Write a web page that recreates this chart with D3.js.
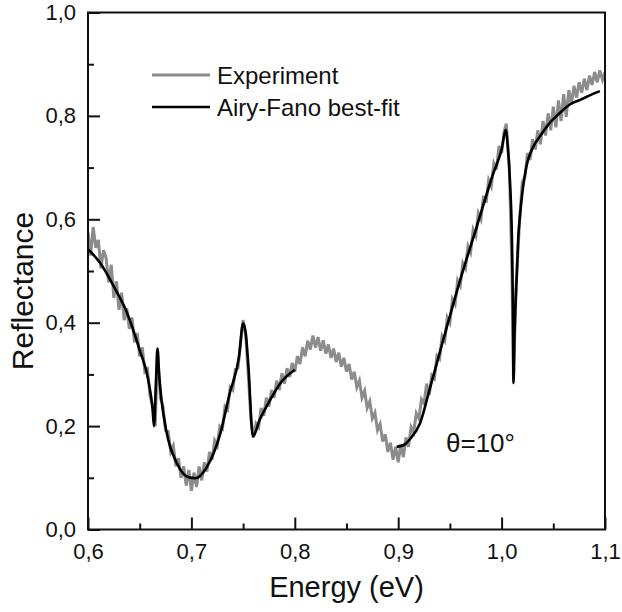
<!DOCTYPE html>
<html>
<head>
<meta charset="utf-8">
<script src="https://cdn.jsdelivr.net/npm/d3@7"></script>
<style>
  html, body { margin: 0; padding: 0; background: #fff; }
  svg { display: block; }
  text { font-family: "Liberation Sans", Arial, sans-serif; fill: #111; }
</style>
</head>
<body>
<svg id="chart" width="622" height="612"></svg>
<script>
// ---------- data ----------
const xMajorTicks = [0.6, 0.7, 0.8, 0.9, 1.0, 1.1];
const xMinorTicks = [0.65, 0.75, 0.85, 0.95, 1.05];
const yMajorTicks = [0.0, 0.2, 0.4, 0.6, 0.8, 1.0];
const yMinorTicks = [0.1, 0.3, 0.5, 0.7, 0.9];
const seriesNames = ["Experiment", "Airy-Fano best-fit"];
const annotation = "θ=10°";

// Experiment (energy eV, reflectance) — noisy measured trace
const experiment = [
[0.6000,0.575],[0.6025,0.530],[0.6050,0.585],[0.6075,0.545],[0.6100,0.560],[0.6125,0.505],[0.6150,0.540],[0.6175,0.525],
[0.6200,0.478],[0.6225,0.512],[0.6250,0.448],[0.6275,0.480],[0.6300,0.425],[0.6325,0.458],[0.6350,0.405],[0.6375,0.428],
[0.6400,0.388],[0.6425,0.410],[0.6450,0.362],[0.6475,0.380],[0.6500,0.335],[0.6525,0.352],[0.6550,0.305],[0.6575,0.310],
[0.6600,0.258],[0.6625,0.240],[0.6650,0.200],[0.6672,0.345],[0.6700,0.255],[0.6725,0.238],[0.6750,0.192],[0.6775,0.190],
[0.6800,0.150],[0.6825,0.162],[0.6850,0.122],[0.6875,0.138],[0.6900,0.100],[0.6925,0.122],[0.6950,0.085],[0.6975,0.115],
[0.7000,0.075],[0.7025,0.110],[0.7050,0.082],[0.7075,0.122],[0.7100,0.095],[0.7125,0.130],[0.7150,0.112],[0.7175,0.150],
[0.7200,0.135],[0.7225,0.172],[0.7250,0.162],[0.7275,0.200],[0.7300,0.195],[0.7325,0.238],[0.7350,0.232],[0.7375,0.275],
[0.7400,0.270],[0.7425,0.310],[0.7450,0.312],[0.7475,0.358],[0.7500,0.405],[0.7525,0.378],[0.7550,0.300],[0.7575,0.215],
[0.7600,0.178],[0.7625,0.205],[0.7650,0.198],[0.7675,0.235],[0.7700,0.220],[0.7725,0.255],[0.7750,0.238],[0.7775,0.270],
[0.7800,0.255],[0.7825,0.288],[0.7850,0.270],[0.7875,0.302],[0.7900,0.282],[0.7925,0.312],[0.7950,0.295],[0.7975,0.322],
[0.8000,0.305],[0.8025,0.335],[0.8050,0.320],[0.8075,0.352],[0.8100,0.335],[0.8125,0.365],[0.8150,0.348],[0.8175,0.375],
[0.8200,0.352],[0.8225,0.372],[0.8250,0.346],[0.8275,0.366],[0.8300,0.340],[0.8325,0.358],[0.8350,0.332],[0.8375,0.350],
[0.8400,0.324],[0.8425,0.342],[0.8450,0.315],[0.8475,0.332],[0.8500,0.305],[0.8525,0.320],[0.8550,0.290],[0.8575,0.305],
[0.8600,0.275],[0.8625,0.288],[0.8650,0.255],[0.8675,0.268],[0.8700,0.235],[0.8725,0.248],[0.8750,0.215],[0.8775,0.226],
[0.8800,0.192],[0.8825,0.204],[0.8850,0.170],[0.8875,0.184],[0.8900,0.150],[0.8925,0.168],[0.8950,0.135],[0.8975,0.160],
[0.9000,0.130],[0.9025,0.165],[0.9050,0.140],[0.9075,0.178],[0.9100,0.160],[0.9125,0.198],[0.9150,0.188],[0.9175,0.225],
[0.9200,0.215],[0.9225,0.252],[0.9250,0.244],[0.9275,0.282],[0.9300,0.260],[0.9325,0.298],[0.9350,0.292],[0.9375,0.336],
[0.9400,0.330],[0.9425,0.374],[0.9450,0.365],[0.9475,0.410],[0.9500,0.400],[0.9525,0.446],[0.9550,0.436],[0.9575,0.482],
[0.9600,0.472],[0.9625,0.515],[0.9650,0.505],[0.9675,0.548],[0.9700,0.536],[0.9725,0.580],[0.9750,0.568],[0.9775,0.612],
[0.9800,0.600],[0.9825,0.645],[0.9850,0.632],[0.9875,0.676],[0.9900,0.664],[0.9925,0.708],[0.9950,0.696],[0.9975,0.742],
[1.0000,0.728],[1.0025,0.770],[1.0045,0.785],[1.0075,0.700],[1.0100,0.500],[1.0115,0.290],[1.0140,0.470],[1.0175,0.600],
[1.0200,0.672],[1.0225,0.682],[1.0250,0.728],[1.0275,0.715],[1.0300,0.755],[1.0325,0.735],[1.0350,0.772],[1.0375,0.745],
[1.0400,0.790],[1.0425,0.762],[1.0450,0.805],[1.0475,0.772],[1.0500,0.818],[1.0525,0.778],[1.0550,0.830],[1.0575,0.790],
[1.0600,0.842],[1.0625,0.798],[1.0650,0.850],[1.0675,0.822],[1.0700,0.858],[1.0725,0.835],[1.0750,0.865],[1.0775,0.845],
[1.0800,0.872],[1.0825,0.850],[1.0850,0.878],[1.0875,0.860],[1.0900,0.885],[1.0925,0.865],[1.0950,0.888],[1.0975,0.870],
[1.1000,0.885]
];

// Airy-Fano best fit, low-energy segment
const fitLow = [
[0.600,0.542],[0.612,0.515],[0.625,0.470],[0.638,0.418],[0.650,0.347],[0.658,0.292],[0.6625,0.232],[0.6638,0.200],
[0.6658,0.290],[0.6672,0.350],[0.6688,0.300],[0.6710,0.252],[0.6760,0.188],[0.6860,0.128],[0.6960,0.102],[0.7040,0.099],
[0.7150,0.121],[0.7280,0.186],[0.7370,0.263],[0.7460,0.334],[0.7500,0.399],[0.7525,0.380],[0.7550,0.320],[0.7595,0.180],
[0.7660,0.212],[0.7760,0.250],[0.7860,0.283],[0.8000,0.309]
];

// Airy-Fano best fit, high-energy segment
const fitHigh = [
[0.8985,0.160],[0.9050,0.163],[0.9115,0.175],[0.9210,0.205],[0.9300,0.268],[0.9400,0.341],[0.9600,0.483],[0.9760,0.586],
[0.9920,0.689],[1.0000,0.735],[1.0040,0.773],[1.0060,0.740],[1.0080,0.676],[1.0100,0.560],[1.0110,0.420],[1.0115,0.283],
[1.0125,0.380],[1.0145,0.483],[1.0160,0.560],[1.0180,0.612],[1.0240,0.702],[1.0300,0.738],[1.0370,0.760],[1.0460,0.785],
[1.0560,0.805],[1.0660,0.822],[1.0760,0.831],[1.0900,0.844],[1.0950,0.848]
];

// ---------- drawing ----------
const svg = d3.select("#chart");
const mLeft = 88, mRight = 605, mTop = 12.5, mBottom = 529.5;

const x = d3.scaleLinear().domain([0.6, 1.1]).range([mLeft, mRight]);
const y = d3.scaleLinear().domain([0, 1.0]).range([mBottom, mTop]);
const fmt = v => d3.format(".1f")(v).replace(".", ",");

svg.append("defs").append("clipPath").attr("id", "plotclip")
  .append("rect").attr("x", mLeft).attr("y", mTop).attr("width", mRight - mLeft).attr("height", mBottom - mTop);

const line = d3.line().x(d => x(d[0])).y(d => y(d[1]));
const smooth = d3.line().x(d => x(d[0])).y(d => y(d[1])).curve(d3.curveMonotoneX);

const plot = svg.append("g").attr("clip-path", "url(#plotclip)");
plot.append("path").datum(experiment)
  .attr("d", line).attr("fill", "none").attr("stroke", "#8c8c8c")
  .attr("stroke-width", 3).attr("stroke-linejoin", "miter");

[fitLow, fitHigh].forEach(seg => {
  plot.append("path").datum(seg)
    .attr("d", smooth).attr("fill", "none").attr("stroke", "#000")
    .attr("stroke-width", 2.6).attr("stroke-linejoin", "round").attr("stroke-linecap", "butt");
});

// Axes (ticks inward)
const xAxis = d3.axisBottom(x).tickValues(xMajorTicks).tickSize(-12).tickPadding(14).tickFormat(fmt);
const xAxisMinor = d3.axisBottom(x).tickValues(xMinorTicks).tickSize(-6).tickFormat("");
const yAxis = d3.axisLeft(y).tickValues(yMajorTicks).tickSize(-12).tickPadding(20).tickFormat(fmt);
const yAxisMinor = d3.axisLeft(y).tickValues(yMinorTicks).tickSize(-6).tickFormat("");

function style(g) {
  g.select(".domain").remove();
  g.selectAll(".tick line").attr("stroke", "#111").attr("stroke-width", 2);
  g.selectAll(".tick text").attr("font-size", 22).attr("fill", "#111")
    .style("font-family", '"Liberation Sans", Arial, sans-serif');
}
svg.append("g").attr("transform", `translate(0,${mBottom})`).call(xAxis).call(style)
  .selectAll(".tick text").attr("dy", "0.71em");
svg.append("g").attr("transform", `translate(0,${mBottom})`).call(xAxisMinor).call(style);
svg.append("g").attr("transform", `translate(${mLeft},0)`).call(yAxis).call(style)
  .selectAll(".tick text").attr("dx", "8");
svg.append("g").attr("transform", `translate(${mLeft},0)`).call(yAxisMinor).call(style);

// Frame
svg.append("rect").attr("x", mLeft).attr("y", mTop).attr("width", mRight - mLeft).attr("height", mBottom - mTop)
  .attr("fill", "none").attr("stroke", "#111").attr("stroke-width", 2);

// Axis titles
svg.append("text").attr("x", (mLeft + mRight) / 2).attr("y", 597)
  .attr("text-anchor", "middle").attr("font-size", 29).text("Energy (eV)");
svg.append("text").attr("transform", "translate(33,291) rotate(-90)")
  .attr("text-anchor", "middle").attr("font-size", 30).text("Reflectance");

// Legend
const legend = svg.append("g");
const legColors = ["#8c8c8c", "#000"];
seriesNames.forEach((name, i) => {
  const ly = 75 + i * 32;
  legend.append("line").attr("x1", 152).attr("x2", 210).attr("y1", ly).attr("y2", ly)
    .attr("stroke", legColors[i]).attr("stroke-width", i === 0 ? 3 : 2.6);
  legend.append("text").attr("x", 217).attr("y", ly + 8.5).attr("font-size", 24).text(name);
});

// Annotation
svg.append("text").attr("x", 446).attr("y", 452).attr("font-size", 26).text(annotation);
</script>
</body>
</html>
